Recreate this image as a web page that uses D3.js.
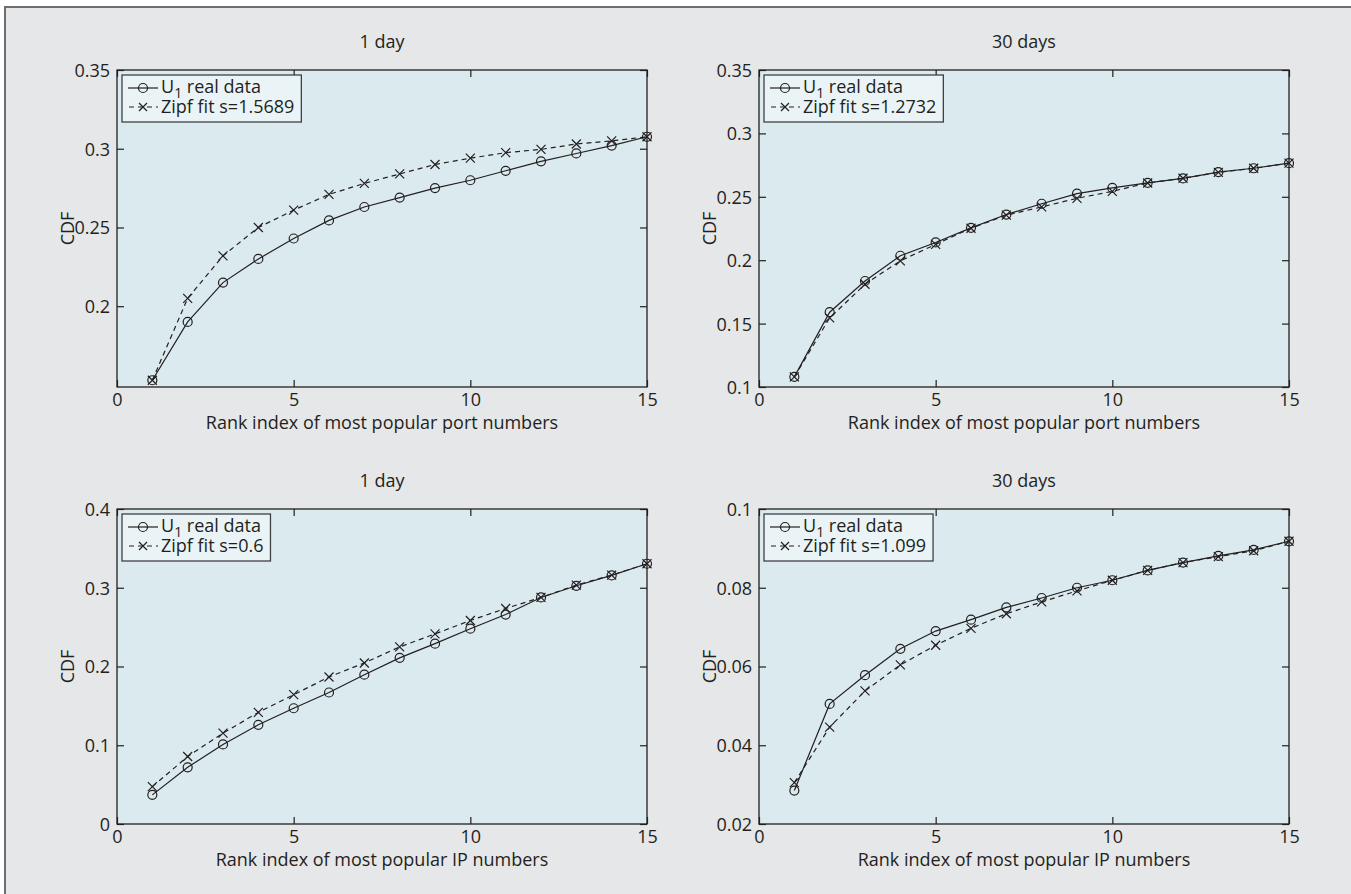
<!DOCTYPE html>
<html>
<head>
<meta charset="utf-8">
<script src="https://cdn.jsdelivr.net/npm/d3@7"></script>
<style>
    body { margin: 0; background: #ffffff; }
    svg text { font-family: "Open Sans", sans-serif; fill: #231f20; }
</style>
</head>
<body>
<div id="figure"></div>
<script>
// ranks on the x axis
const rankIdx = [1, 2, 3, 4, 5, 6, 7, 8, 9, 10, 11, 12, 13, 14, 15];
const xTicks = [0, 5, 10, 15];

// port numbers, 1 day
const portDayReal = [0.153, 0.190, 0.215, 0.230, 0.243, 0.2545, 0.263, 0.269, 0.275, 0.280, 0.286, 0.292, 0.297, 0.302, 0.3076];
const portDayZipf = [0.153, 0.205, 0.232, 0.250, 0.261, 0.271, 0.278, 0.284, 0.290, 0.294, 0.2975, 0.2996, 0.303, 0.305, 0.3076];
const portDayTicks = [0.2, 0.25, 0.3, 0.35];

// port numbers, 30 days
const portMonthReal = [0.108, 0.159, 0.1836, 0.2035, 0.214, 0.2255, 0.236, 0.2445, 0.2525, 0.257, 0.261, 0.2645, 0.2695, 0.2725, 0.2765];
const portMonthZipf = [0.108, 0.1545, 0.181, 0.1995, 0.2125, 0.2252, 0.2355, 0.242, 0.2488, 0.2543, 0.2609, 0.2646, 0.2693, 0.2725, 0.2765];
const portMonthTicks = [0.1, 0.15, 0.2, 0.25, 0.3, 0.35];

// IP numbers, 1 day
const ipDayReal = [0.037, 0.072, 0.101, 0.126, 0.147, 0.167, 0.1896, 0.211, 0.229, 0.248, 0.266, 0.2877, 0.3025, 0.3157, 0.3305];
const ipDayZipf = [0.0475, 0.0857, 0.1154, 0.1417, 0.1642, 0.1867, 0.2045, 0.2249, 0.2414, 0.2584, 0.2737, 0.2877, 0.3033, 0.3161, 0.3305];
const ipDayTicks = [0, 0.1, 0.2, 0.3, 0.4];

// IP numbers, 30 days
const ipMonthReal = [0.0285, 0.0505, 0.0578, 0.0645, 0.069, 0.0719, 0.075, 0.0774, 0.080, 0.0819, 0.0844, 0.0864, 0.0881, 0.0896, 0.0918];
const ipMonthZipf = [0.0305, 0.0446, 0.0538, 0.0604, 0.0654, 0.0697, 0.0734, 0.0764, 0.0792, 0.0819, 0.0844, 0.0864, 0.0879, 0.0894, 0.0918];
const ipMonthTicks = [0.02, 0.04, 0.06, 0.08, 0.1];

const titles = ["1 day", "30 days", "1 day", "30 days"];
const xLabels = ["Rank index of most popular port numbers", "Rank index of most popular port numbers",
                 "Rank index of most popular IP numbers", "Rank index of most popular IP numbers"];
const zipfLabels = ["Zipf fit s=1.5689", "Zipf fit s=1.2732", "Zipf fit s=0.6", "Zipf fit s=1.099"];

const ink = "#231f20";

let panels = [
    { left: 117, top: 70, height: 317, yDomain: [0.1487, 0.35], yTicks: portDayTicks, real: portDayReal, zipf: portDayZipf },
    { left: 759, top: 70, height: 317, yDomain: [0.1, 0.35], yTicks: portMonthTicks, real: portMonthReal, zipf: portMonthZipf },
    { left: 117, top: 509, height: 315, yDomain: [0, 0.4], yTicks: ipDayTicks, real: ipDayReal, zipf: ipDayZipf },
    { left: 759, top: 509, height: 315, yDomain: [0.02, 0.1], yTicks: ipMonthTicks, real: ipMonthReal, zipf: ipMonthZipf }
];

let svg = d3.select("#figure").append("svg").attr("width", 1351).attr("height", 894);

// grey page with the dark edge on top and left
svg.append("rect").attr("x", 5).attr("y", 7).attr("width", 1400).attr("height", 950)
    .attr("fill", "#e6e7e8").attr("stroke", "#6d6e70").attr("stroke-width", 2);

const crossPath = "M-4.5,-4.5L4.5,4.5M-4.5,4.5L4.5,-4.5";

panels.forEach((p, k) => {
    let width = 530;
    let g = svg.append("g").attr("transform", "translate(" + p.left + "," + p.top + ")");
    let x = d3.scaleLinear().domain([0, 15]).range([0, width]);
    let y = d3.scaleLinear().domain(p.yDomain).range([p.height, 0]);

    g.append("rect").attr("width", width).attr("height", p.height).attr("fill", "#dbeaee");

    // ticks point inwards on all four sides
    let yAxis = g.append("g").call(d3.axisLeft(y).tickValues(p.yTicks).tickSize(-7).tickPadding(7).tickFormat(d => String(d)));
    g.append("g").attr("transform", "translate(" + width + ",0)").call(d3.axisRight(y).tickValues(p.yTicks).tickSize(-7).tickFormat(""));
    let xAxis = g.append("g").attr("transform", "translate(0," + p.height + ")").call(d3.axisBottom(x).tickValues(xTicks).tickSize(-7).tickPadding(5).tickFormat(d => String(d)));
    g.append("g").call(d3.axisTop(x).tickValues(xTicks).tickSize(-7).tickFormat(""));
    g.selectAll(".domain").remove();
    g.selectAll(".tick line").attr("stroke", ink).attr("stroke-width", 1.2);
    g.selectAll(".tick text").attr("font-family", "Open Sans").attr("font-size", 18).attr("fill", ink);
    yAxis.selectAll(".tick text").attr("dy", "0.36em");
    xAxis.selectAll(".tick text").attr("dy", "0.8em");

    g.append("rect").attr("width", width).attr("height", p.height).attr("fill", "none").attr("stroke", ink).attr("stroke-width", 1.3);

    g.append("text").attr("x", width / 2).attr("y", -22).attr("text-anchor", "middle").attr("font-size", 18).text(titles[k]);
    g.append("text").attr("x", width / 2).attr("y", p.height + 42).attr("text-anchor", "middle").attr("font-size", 18).text(xLabels[k]);
    g.append("text").attr("transform", "translate(-43," + (p.height / 2) + ") rotate(-90)").attr("text-anchor", "middle").attr("font-size", 18).text("CDF");

    let line = d3.line().x((d, i) => x(rankIdx[i])).y(d => y(d));
    g.append("path").datum(p.zipf).attr("d", line).attr("fill", "none").attr("stroke", ink).attr("stroke-width", 1.2).attr("stroke-dasharray", "5,4");
    g.append("path").datum(p.real).attr("d", line).attr("fill", "none").attr("stroke", ink).attr("stroke-width", 1.2);

    g.selectAll(".real-mark").data(p.real).join("circle").attr("class", "real-mark")
        .attr("cx", (d, i) => x(rankIdx[i])).attr("cy", d => y(d)).attr("r", 4.5)
        .attr("fill", "none").attr("stroke", ink).attr("stroke-width", 1.2);
    g.selectAll(".zipf-mark").data(p.zipf).join("path").attr("class", "zipf-mark")
        .attr("transform", (d, i) => "translate(" + x(rankIdx[i]) + "," + y(d) + ")")
        .attr("d", crossPath).attr("fill", "none").attr("stroke", ink).attr("stroke-width", 1.2);

    // legend
    let lg = g.append("g").attr("transform", "translate(5,5)");
    let box = lg.append("rect").attr("height", 47).attr("fill", "#eaf4f6").attr("stroke", "#414042").attr("stroke-width", 1.3);
    lg.append("line").attr("x1", 6).attr("x2", 36).attr("y1", 13).attr("y2", 13).attr("stroke", ink).attr("stroke-width", 1.2);
    lg.append("circle").attr("cx", 21).attr("cy", 13).attr("r", 4.5).attr("fill", "none").attr("stroke", ink).attr("stroke-width", 1.2);
    lg.append("line").attr("x1", 6).attr("x2", 36).attr("y1", 32).attr("y2", 32).attr("stroke", ink).attr("stroke-width", 1.2).attr("stroke-dasharray", "5,4").attr("stroke-dashoffset", -1);
    lg.append("path").attr("transform", "translate(21,32)").attr("d", "M-4,-4L4,4M-4,4L4,-4").attr("fill", "none").attr("stroke", ink).attr("stroke-width", 1.2);

    let t1 = lg.append("text").attr("x", 39).attr("y", 18).attr("font-size", 18);
    t1.append("tspan").text("U");
    t1.append("tspan").attr("dy", 5).attr("font-size", 14).text("1");
    t1.append("tspan").attr("dy", -5).text(" real data");
    let t2 = lg.append("text").attr("x", 39).attr("y", 38).attr("font-size", 18).text(zipfLabels[k]);
    let textW = Math.max(t1.node().getComputedTextLength(), t2.node().getComputedTextLength());
    box.attr("width", 39 + textW + 7);
});
</script>
</body>
</html>
